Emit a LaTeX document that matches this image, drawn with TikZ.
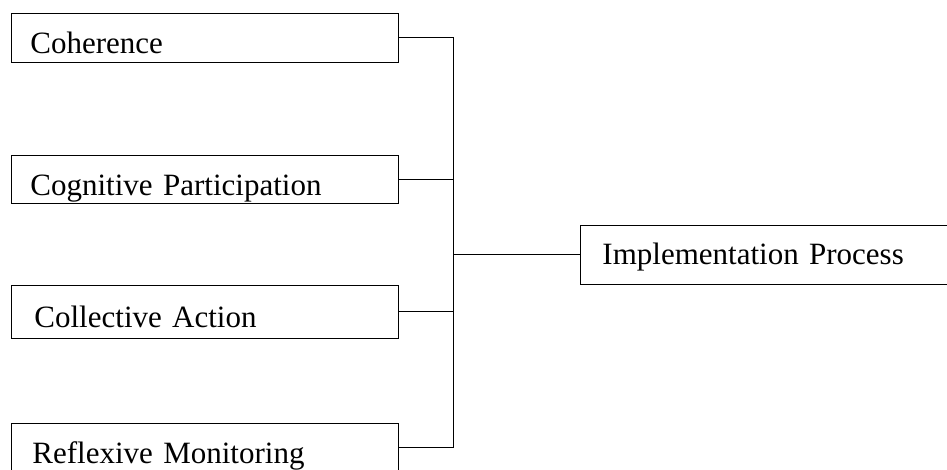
\documentclass[tikz,border=0pt]{standalone}
\usepackage{fontspec}
\setmainfont{Liberation Serif}
\begin{document}
\begin{tikzpicture}[x=1pt,y=-1pt,
  box/.style={draw=black,line width=0.9pt,rectangle,anchor=base west,inner ysep=0pt,align=left,
    font=\fontsize{31}{37}\selectfont},
  conn/.style={draw=black,line width=0.9pt}]
\useasboundingbox (0,0) rectangle (947,469);
\clip (0,0) rectangle (947,469);
\node[box,inner xsep=19pt,text width=349pt,text height=40pt,text depth=9pt] (b1) at (11,53) {Coherence};
\node[box,inner xsep=19pt,text width=349pt,text height=40pt,text depth=8pt] (b2) at (11,195) {Cognitive Participation};
\node[box,inner xsep=23pt,text width=341pt,text height=42pt,text depth=11pt] (b3) at (11,327) {Collective Action};
\node[box,inner xsep=21pt,text width=345pt,text height=40pt,text depth=8pt] (b4) at (11,463) {Reflexive Monitoring};
\node[box,inner xsep=22pt,text width=336pt,text height=39pt,text depth=20pt] (impl) at (580,264) {Implementation Process};
\coordinate (jt) at (453,0);
\draw[conn] (b1.east) -| (jt |- b4.east) -- (b4.east);
\draw[conn] (b2.east) -- (b2.east -| jt);
\draw[conn] (b3.east) -- (b3.east -| jt);
\draw[conn] (impl.west) -- (impl.west -| jt);
\end{tikzpicture}
\end{document}
